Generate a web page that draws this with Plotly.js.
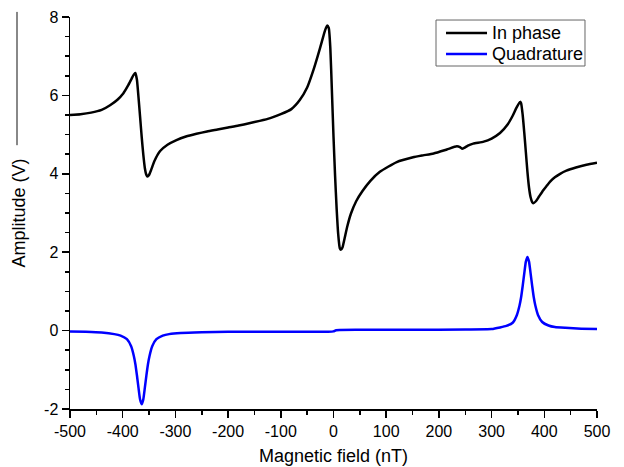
<!DOCTYPE html>
<html>
<head>
<meta charset="utf-8">
<script src="https://cdn.plot.ly/plotly-3.0.1.min.js"></script>
<style>html,body{margin:0;padding:0;background:#fff;}#chart{width:624px;height:467px;}</style>
</head>
<body>
<div id="chart"></div>
<script>
// In-phase signal (V) vs magnetic field (nT)
const inPhaseX = [-500,-480,-460,-440,-424,-410,-399,-390,-383,-379,-376,-373,-370,-367,-364,-361,-358,-355,-353,-350,-346,-340,-329,-315,-298,-280,-260,-240,-220,-200,-180,-160,-140,-120,-100,-80,-64,-50,-38,-30,-22,-16,-12,-9,-6,-3,0,3,6,9,12,14,17,21,26,33,43,55,70,88,120,151,170,190,215,234,240,244,248,255,265,285,300,316,330,340,347,354,356,359,362,365,368,371,374,377,379,384,390,398,405,411,420,430,442,460,480,500];
const inPhaseY = [5.50,5.52,5.56,5.63,5.75,5.89,6.05,6.25,6.43,6.53,6.57,6.40,5.95,5.45,4.95,4.50,4.15,3.97,3.93,3.97,4.10,4.32,4.58,4.74,4.86,4.95,5.02,5.08,5.13,5.18,5.23,5.29,5.35,5.42,5.52,5.65,5.88,6.20,6.65,7.00,7.38,7.66,7.78,7.72,7.20,6.10,4.95,3.95,3.10,2.45,2.10,2.06,2.12,2.35,2.65,2.98,3.30,3.56,3.82,4.05,4.30,4.42,4.47,4.52,4.62,4.70,4.68,4.64,4.66,4.72,4.77,4.82,4.90,5.04,5.25,5.48,5.68,5.84,5.80,5.50,5.05,4.55,4.05,3.65,3.40,3.28,3.25,3.30,3.42,3.58,3.70,3.80,3.91,4.00,4.08,4.16,4.23,4.28];

// Quadrature signal (V)
const quadX = [-500,-470,-440,-416,-404,-392,-384,-379,-376,-373,-370,-367,-364,-361,-358,-355,-352,-349,-344,-336,-324,-312,-290,-250,-200,-100,-10,0,5,50,150,250,300,316,328,340,348,353,356,359,362,365,368,371,374,377,380,383,388,396,408,420,440,470,500];
const quadY = [-0.02,-0.03,-0.05,-0.09,-0.13,-0.22,-0.40,-0.64,-0.85,-1.14,-1.46,-1.76,-1.88,-1.76,-1.46,-1.14,-0.85,-0.64,-0.40,-0.22,-0.13,-0.09,-0.06,-0.04,-0.03,-0.03,-0.03,-0.02,0.01,0.02,0.02,0.03,0.04,0.08,0.12,0.20,0.40,0.64,0.85,1.14,1.46,1.76,1.88,1.76,1.46,1.14,0.85,0.64,0.40,0.22,0.13,0.09,0.07,0.05,0.04];

const xTickVals = [-500,-400,-300,-200,-100,0,100,200,300,400,500];
const yTickVals = [-2,0,2,4,6,8];
const seriesNames = ['In phase','Quadrature'];
const seriesColors = ['#000000','#0000ff'];

const traces = [
  {x: inPhaseX, y: inPhaseY, name: seriesNames[0], mode: 'lines', type: 'scatter', showlegend: false,
   line: {color: seriesColors[0], width: 2.5, shape: 'spline', smoothing: 0.5}},
  {x: quadX, y: quadY, name: seriesNames[1], mode: 'lines', type: 'scatter', showlegend: false,
   line: {color: seriesColors[1], width: 2.5, shape: 'spline', smoothing: 0.5}}
];

// Legend box (paper coordinates)
const lgX0 = 0.6945, lgX1 = 0.9772, lgY0 = 0.875, lgY1 = 0.9923;
const lgLineX0 = 0.7135, lgLineX1 = 0.7913, lgTextX = 0.7990;
const lgRowY = [0.959, 0.9056];

const shapes = [
  {type: 'line', xref: 'paper', yref: 'paper', x0: -0.1006, x1: -0.1006, y0: 0.673, y1: 1.013,
   line: {color: '#888', width: 2}},
  {type: 'rect', xref: 'paper', yref: 'paper', x0: lgX0, x1: lgX1, y0: lgY0, y1: lgY1,
   line: {color: '#666', width: 1}, fillcolor: '#fff', layer: 'above'}
];
const annotations = [];
seriesNames.forEach((n, i) => {
  shapes.push({type: 'line', xref: 'paper', yref: 'paper', x0: lgLineX0, x1: lgLineX1, y0: lgRowY[i], y1: lgRowY[i],
               line: {color: seriesColors[i], width: 2.5}, layer: 'above'});
  annotations.push({xref: 'paper', yref: 'paper', x: lgTextX, y: lgRowY[i], xanchor: 'left', yanchor: 'middle',
                    text: n, showarrow: false, borderpad: 0,
                    font: {family: 'Liberation Sans, Arial, sans-serif', size: 18, color: '#000'}});
});

const fontFam = 'Liberation Sans, Arial, sans-serif';
const layout = {
  width: 624, height: 467,
  margin: {l: 70, r: 27, t: 17, b: 58},
  paper_bgcolor: '#fff', plot_bgcolor: '#fff',
  font: {family: fontFam, color: '#000', size: 16},
  showlegend: false,
  xaxis: {
    range: [-500, 500], tickvals: xTickVals, ticktext: xTickVals.map(String),
    showline: true, linecolor: '#000', linewidth: 1.5, mirror: false,
    showgrid: false, zeroline: false,
    ticks: 'outside', ticklen: 7, tickwidth: 1.5, tickcolor: '#000',
    tickfont: {family: fontFam, size: 16},
    minor: {dtick: 50, tick0: 0, ticks: 'outside', ticklen: 4, tickwidth: 1.5, tickcolor: '#000', showgrid: false},
    title: {text: 'Magnetic field (nT)', font: {family: fontFam, size: 18}, standoff: 10}
  },
  yaxis: {
    range: [-2, 8], tickvals: yTickVals, ticktext: yTickVals.map(String),
    showline: true, linecolor: '#000', linewidth: 1.5, mirror: false,
    showgrid: false, zeroline: false,
    ticks: 'outside', ticklen: 7, tickwidth: 1.5, tickcolor: '#000',
    tickfont: {family: fontFam, size: 16},
    minor: {dtick: 0.5, tick0: 0, ticks: 'outside', ticklen: 4, tickwidth: 1.5, tickcolor: '#000', showgrid: false},
    title: {text: 'Amplitude (V)', font: {family: fontFam, size: 18}, standoff: 14}
  },
  shapes: shapes,
  annotations: annotations
};

Plotly.newPlot('chart', traces, layout, {staticPlot: true, displayModeBar: false});
</script>
</body>
</html>
